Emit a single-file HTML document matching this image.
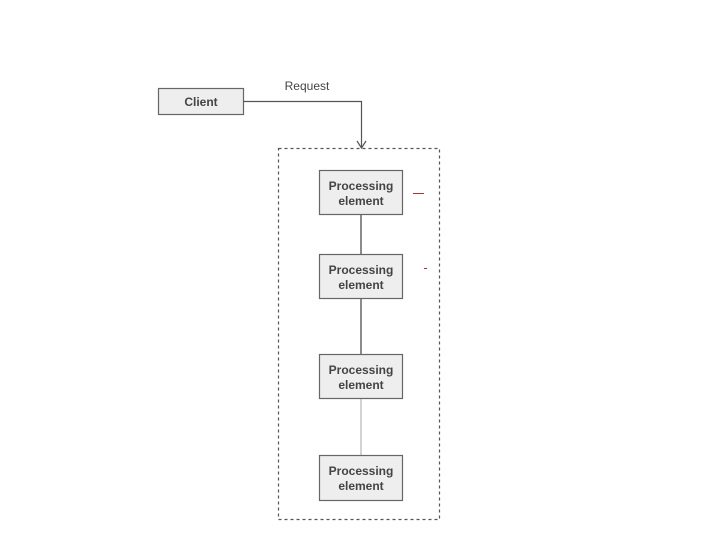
<!DOCTYPE html>
<html><head><style>
body{margin:0;background:#fff;}
svg text{font-family:"Liberation Sans",sans-serif;}
</style></head><body>
<svg width="720" height="540" xmlns="http://www.w3.org/2000/svg">
<rect x="0" y="0" width="720" height="540" fill="#fff"/>
<rect x="158.5" y="88.5" width="85" height="26" fill="#eeeeee" stroke="#666" stroke-width="1.2"/>
<text x="201" y="106" font-size="12" font-weight="bold" fill="#444" text-anchor="middle">Client</text>
<text x="307" y="90" font-size="12" fill="#444" text-anchor="middle">Request</text>
<polyline points="243,101.5 361.5,101.5 361.5,148" fill="none" stroke="#555" stroke-width="1.2"/>
<polyline points="357,141 361.5,148 366,141" fill="none" stroke="#555" stroke-width="1.2"/>
<rect x="278.5" y="148.5" width="161" height="371" fill="none" stroke="#555" stroke-width="1.2" stroke-dasharray="3,3"/>
<line x1="361" y1="214" x2="361" y2="254" stroke="#666" stroke-width="1.5"/>
<line x1="361" y1="298" x2="361" y2="354" stroke="#666" stroke-width="1.5"/>
<line x1="361" y1="398" x2="361" y2="455" stroke="#aaa" stroke-width="1"/>
<g font-size="12" font-weight="bold" fill="#444" text-anchor="middle">
<rect x="319.5" y="170.5" width="83" height="44" fill="#eeeeee" stroke="#666" stroke-width="1.2"/>
<text x="361" y="190">Processing</text><text x="361" y="205">element</text>
<rect x="319.5" y="254.5" width="83" height="44" fill="#eeeeee" stroke="#666" stroke-width="1.2"/>
<text x="361" y="274">Processing</text><text x="361" y="289">element</text>
<rect x="319.5" y="354.5" width="83" height="44" fill="#eeeeee" stroke="#666" stroke-width="1.2"/>
<text x="361" y="374">Processing</text><text x="361" y="389">element</text>
<rect x="319.5" y="455.5" width="83" height="45" fill="#eeeeee" stroke="#666" stroke-width="1.2"/>
<text x="361" y="475">Processing</text><text x="361" y="490">element</text>
</g>
<line x1="413" y1="193.5" x2="424" y2="193.5" stroke="#a33" stroke-width="1"/>
<line x1="424" y1="268.5" x2="427" y2="268.5" stroke="#a33" stroke-width="1"/>
</svg>
</body></html>
